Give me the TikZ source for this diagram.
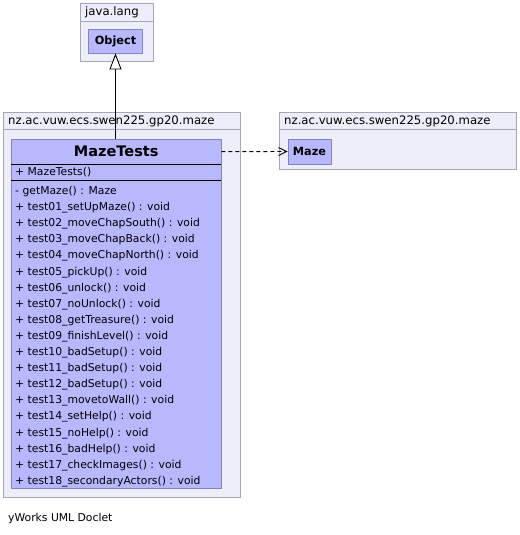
\documentclass[tikz,border=0pt]{standalone}
\usepackage{fontspec}
\setmainfont{DejaVu Sans}
\usetikzlibrary{arrows.meta}
\usetikzlibrary{positioning}
\definecolor{pkgfill}{RGB}{238,238,250}
\definecolor{pkgline}{RGB}{165,165,180}
\definecolor{clsfill}{RGB}{184,184,255}
\definecolor{clsline}{RGB}{130,130,190}

\tikzset{
  pkg/.style={draw=pkgline, fill=pkgfill, line width=0.9pt, anchor=north west, inner sep=0},
  cls/.style={draw=clsline, fill=clsfill, line width=0.9pt, inner sep=0, font=\fontsize{11.3}{12}\selectfont\bfseries},
  tabname/.style={anchor=west, font=\fontsize{11.7}{12}\selectfont, inner sep=0},
  member/.style={anchor=west, font=\fontsize{10.8}{12}\selectfont, inner sep=0},
}

\begin{document}
\begin{tikzpicture}[x=1pt, y=-1pt]
    \useasboundingbox[fill=white] (0,0) rectangle (519,535);

    % packages
    \node[pkg, minimum width=73pt, minimum height=58pt] (langpkg) at (80,3) {};
    \draw[pkgline, line width=0.9pt] ([yshift=-18pt]langpkg.north west) -- ([yshift=-18pt]langpkg.north east);
    \node[tabname] (langname) at (85,12) {java.lang};

    \node[pkg, minimum width=237pt, minimum height=385pt] (mazepkg) at (3,112) {};
    \draw[pkgline, line width=0.9pt] ([yshift=-17pt]mazepkg.north west) -- ([yshift=-17pt]mazepkg.north east);
    \node[tabname] (mazepkgname) at (8,121) {nz.ac.vuw.ecs.swen225.gp20.maze};

    \node[pkg, minimum width=237pt, minimum height=57pt] (otherpkg) at (279,112) {};
    \draw[pkgline, line width=0.9pt] ([yshift=-17pt]otherpkg.north west) -- ([yshift=-17pt]otherpkg.north east);
    \node[tabname] (otherpkgname) at (284,121) {nz.ac.vuw.ecs.swen225.gp20.maze};

    % classes
    \node[cls, minimum width=54pt, minimum height=24pt] (object) at (115.5,41) {Object};
    \node[cls, minimum width=43pt, minimum height=25pt] (maze) at (309.5,151.5) {Maze};

    \node[cls, anchor=north west, minimum width=210pt, minimum height=349pt] (mazetests) at (11,139) {};
    \node[anchor=north west, minimum width=210pt, minimum height=25pt, inner sep=0,
          font=\fontsize{14.5}{16}\selectfont\bfseries] (mazetitle) at (11,139) {MazeTests};
    \draw[line width=1.1pt] (11,164.5) -- (221,164.5);
    \draw[line width=1.1pt] (11,180.5) -- (221,180.5);

    \node[member] (ctor) at (15,172.5) {+ MazeTests()};
    \node[member] (m00) at (15,191.7) {- getMaze() : Maze};
    \node[member] (m01) at (15,207.8) {+ test01\_setUpMaze() : void};
    \node[member] (m02) at (15,223.9) {+ test02\_moveChapSouth() : void};
    \node[member] (m03) at (15,240.0) {+ test03\_moveChapBack() : void};
    \node[member] (m04) at (15,256.1) {+ test04\_moveChapNorth() : void};
    \node[member] (m05) at (15,272.2) {+ test05\_pickUp() : void};
    \node[member] (m06) at (15,288.3) {+ test06\_unlock() : void};
    \node[member] (m07) at (15,304.4) {+ test07\_noUnlock() : void};
    \node[member] (m08) at (15,320.5) {+ test08\_getTreasure() : void};
    \node[member] (m09) at (15,336.6) {+ test09\_finishLevel() : void};
    \node[member] (m10) at (15,352.7) {+ test10\_badSetup() : void};
    \node[member] (m11) at (15,368.8) {+ test11\_badSetup() : void};
    \node[member] (m12) at (15,384.9) {+ test12\_badSetup() : void};
    \node[member] (m13) at (15,401.0) {+ test13\_movetoWall() : void};
    \node[member] (m14) at (15,417.1) {+ test14\_setHelp() : void};
    \node[member] (m15) at (15,433.2) {+ test15\_noHelp() : void};
    \node[member] (m16) at (15,449.3) {+ test16\_badHelp() : void};
    \node[member] (m17) at (15,465.4) {+ test17\_checkImages() : void};
    \node[member] (m18) at (15,481.5) {+ test18\_secondaryActors() : void};

    % relations
    \draw[line width=0.9pt, -{Triangle[open, width=12pt, length=16pt, fill=white]}] (mazetests.north -| object.south) -- (object.south);
    \draw[line width=0.9pt, dash pattern=on 4pt off 3pt, -{Straight Barb[length=8pt, width=8pt]}] (mazetitle.east) -- (maze.west);

    \node[member] (footer) at (8,519) {yWorks UML Doclet};
\end{tikzpicture}
\end{document}
